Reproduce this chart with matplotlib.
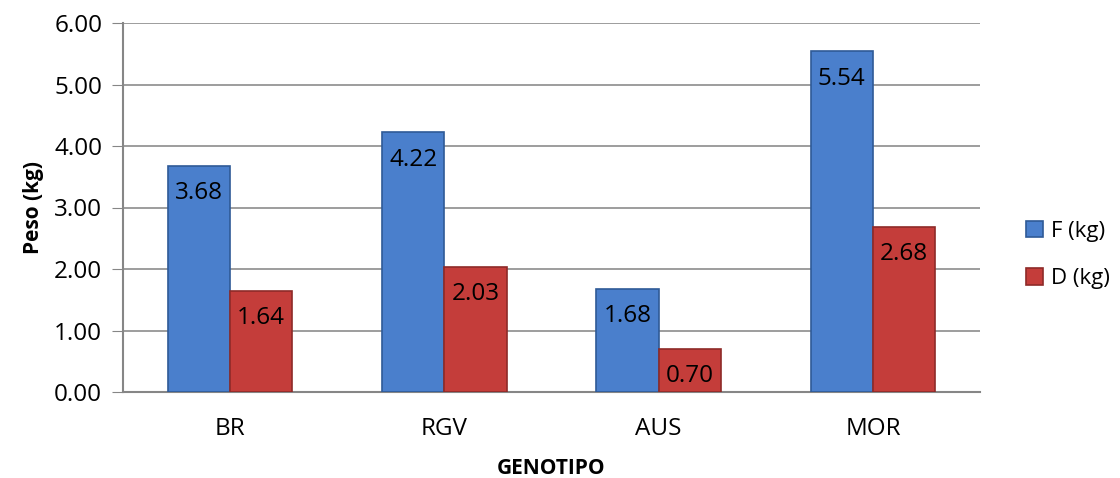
import matplotlib
matplotlib.use("Agg")
import matplotlib.pyplot as plt
import numpy as np

categories = ["BR", "RGV", "AUS", "MOR"]
f_values = [3.68, 4.22, 1.68, 5.54]
d_values = [1.64, 2.03, 0.70, 2.68]
series_labels = ["F (kg)", "D (kg)"]
yticks = [0, 1, 2, 3, 4, 5, 6]

plt.rcParams['font.family'] = ['Open Sans', 'DejaVu Sans']

fig = plt.figure(figsize=(11.2, 4.78), dpi=100)
ax = fig.add_axes([123/1120, 1 - 392/478, (980-123)/1120, (392-23)/478])

x = np.arange(len(categories))
w = 0.29
blue = "#4a7fcc"
blue_edge = "#2f5a97"
red = "#c43d3a"
red_edge = "#8e2a28"

b1 = ax.bar(x - w/2, f_values, w, color=blue, edgecolor=blue_edge, linewidth=1.2, label=series_labels[0], zorder=3)
b2 = ax.bar(x + w/2, d_values, w, color=red, edgecolor=red_edge, linewidth=1.2, label=series_labels[1], zorder=3)

for bars, vals in ((b1, f_values), (b2, d_values)):
    for r, v in zip(bars, vals):
        ax.annotate(f"{v:.2f}", (r.get_x() + r.get_width()/2, v), xytext=(0, -11),
                    textcoords="offset points", ha="center", va="top", fontsize=17.5,
                    color="black", zorder=4)

ax.set_xlim(-0.5, len(categories) - 0.5)
ax.set_ylim(0, 6)
ax.set_yticks(yticks)
ax.set_yticklabels([f"{t:.2f}" for t in yticks], fontsize=17.5)
ax.set_xticks(x)
ax.set_xticklabels(categories, fontsize=17.5)
ax.tick_params(axis='x', length=0, pad=18)
ax.tick_params(axis='y', length=8, direction='out', color="#868686", pad=7)

ax.yaxis.grid(True, color="#8c8c8c", linewidth=1.2, zorder=0)
ax.set_axisbelow(True)
for s in ("top", "right"):
    ax.spines[s].set_visible(False)
for s in ("left", "bottom"):
    ax.spines[s].set_color("#868686")
    ax.spines[s].set_linewidth(1.5)

ax.set_ylabel("Peso (kg)", fontsize=15, fontweight="bold", labelpad=7)
ax.set_xlabel("GENOTIPO", fontsize=15, fontweight="bold", labelpad=12)

leg = fig.legend(handles=[b1, b2], labels=series_labels, loc="center left",
                 bbox_to_anchor=(1022/1120, 1 - 255/478), frameon=False, fontsize=16,
                 borderaxespad=0, borderpad=0.2,
                 handlelength=0.75, handleheight=0.75, handletextpad=0.35, labelspacing=1.2)

fig.savefig("out.png", dpi=100)
